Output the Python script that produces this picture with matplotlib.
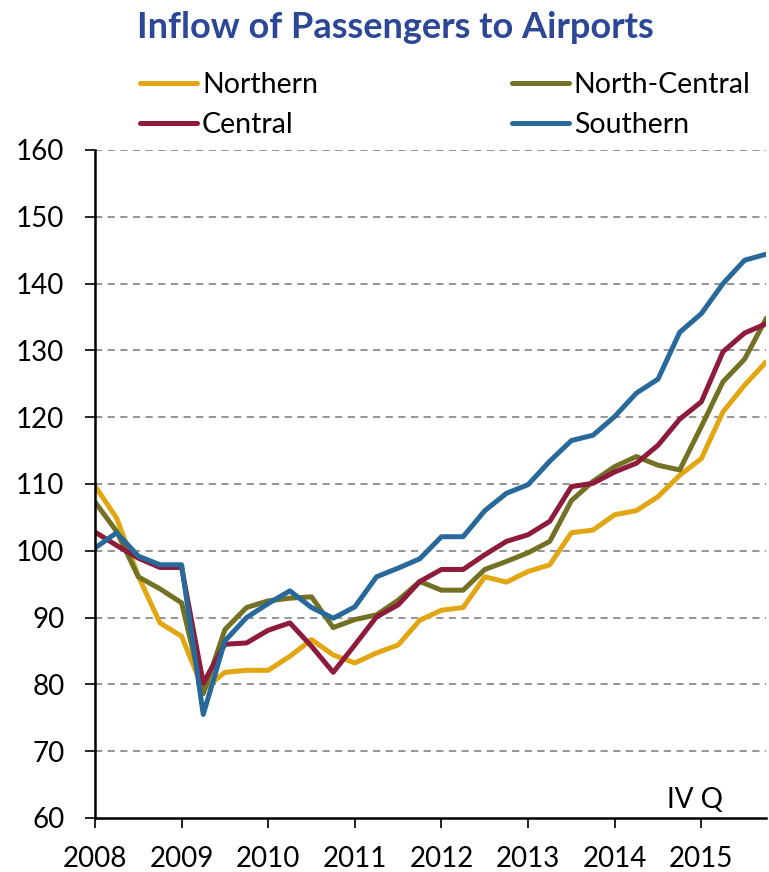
import numpy as np
import matplotlib.pyplot as plt

plt.rcParams['font.family'] = ['Lato', 'DejaVu Sans']

years = ["2008", "2009", "2010", "2011", "2012", "2013", "2014", "2015"]

# quarterly index, 2008 I Q ... 2015 IV Q
northern = [109.7, 104.9, 96.2, 89.2, 87.2, 79.2, 81.8, 82.1, 82.1, 84.2, 86.7, 84.4,
            83.2, 84.7, 85.9, 89.6, 91.1, 91.5, 96.1, 95.3, 96.9, 97.9, 102.7, 103.1,
            105.4, 106.0, 108.1, 111.3, 113.8, 120.8, 124.8, 128.3]
north_central = [107.3, 102.9, 96.1, 94.3, 92.2, 78.6, 88.2, 91.5, 92.5, 92.9, 93.1, 88.5,
                 89.7, 90.4, 92.6, 95.4, 94.1, 94.1, 97.2, 98.4, 99.7, 101.4, 107.5, 110.4,
                 112.6, 114.1, 112.8, 112.1, 118.6, 125.3, 128.7, 134.8]
central = [102.8, 100.8, 98.9, 97.5, 97.5, 80.2, 86.0, 86.2, 88.1, 89.2, 85.7, 81.8,
           85.9, 90.1, 91.9, 95.4, 97.2, 97.2, 99.4, 101.4, 102.4, 104.4, 109.6, 110.1,
           111.8, 113.1, 115.8, 119.7, 122.3, 129.8, 132.6, 134.0]
southern = [100.4, 102.7, 99.2, 97.9, 97.9, 75.5, 86.5, 90.0, 92.1, 94.0, 91.5, 89.9,
            91.6, 96.1, 97.4, 98.8, 102.1, 102.1, 106.0, 108.6, 109.9, 113.4, 116.5, 117.3,
            120.1, 123.6, 125.7, 132.7, 135.5, 140.0, 143.5, 144.4]

series = [("Northern", northern, "#E2A612"),
          ("North-Central", north_central, "#737124"),
          ("Central", central, "#8E1B3B"),
          ("Southern", southern, "#26699A")]

fig = plt.figure(figsize=(7.69, 8.72), dpi=100)
ax = fig.add_axes([0.1235, 0.062, 0.873, 0.766])

x = np.arange(len(northern))
handles = []
for name, vals, col in series:
    h, = ax.plot(x, vals, color=col, lw=3.6, label=name, solid_capstyle='round')
    handles.append(h)

ax.set_xlim(0, len(northern) - 1)
ax.set_ylim(60, 160)
ax.set_yticks(np.arange(60, 161, 10))
ax.set_xticks(np.arange(0, len(northern), 4))
ax.set_xticklabels(years)
ax.tick_params(axis='both', labelsize=20, length=7, width=1.2, direction='out')
ax.tick_params(axis='x', pad=13)
ax.tick_params(axis='y', pad=15)

for v in range(70, 161, 10):
    ax.axhline(v, color='#8c8c8c', lw=1.3, ls=(0, (4, 3)), zorder=0)

for s in ['top', 'right']:
    ax.spines[s].set_visible(False)
for s in ['left', 'bottom']:
    ax.spines[s].set_linewidth(1.8)

fig.text(0.940, 0.0734, "IV Q", fontsize=20, ha='right', va='baseline')

fig.text(0.514, 0.9564, "Inflow of Passengers to Airports", ha='center', va='baseline',
         fontsize=26, fontweight='bold', color='#2B4796')

order = [handles[0], handles[2], handles[1], handles[3]]
fig.legend(order, [h.get_label() for h in order], ncol=2, loc='upper left',
           bbox_to_anchor=(0.182, 0.917), frameon=False, fontsize=20.5,
           handlelength=2.0, handletextpad=0.18, columnspacing=6.8, labelspacing=0.47,
           borderaxespad=0, borderpad=0)

fig.savefig("out.png", dpi=100)
